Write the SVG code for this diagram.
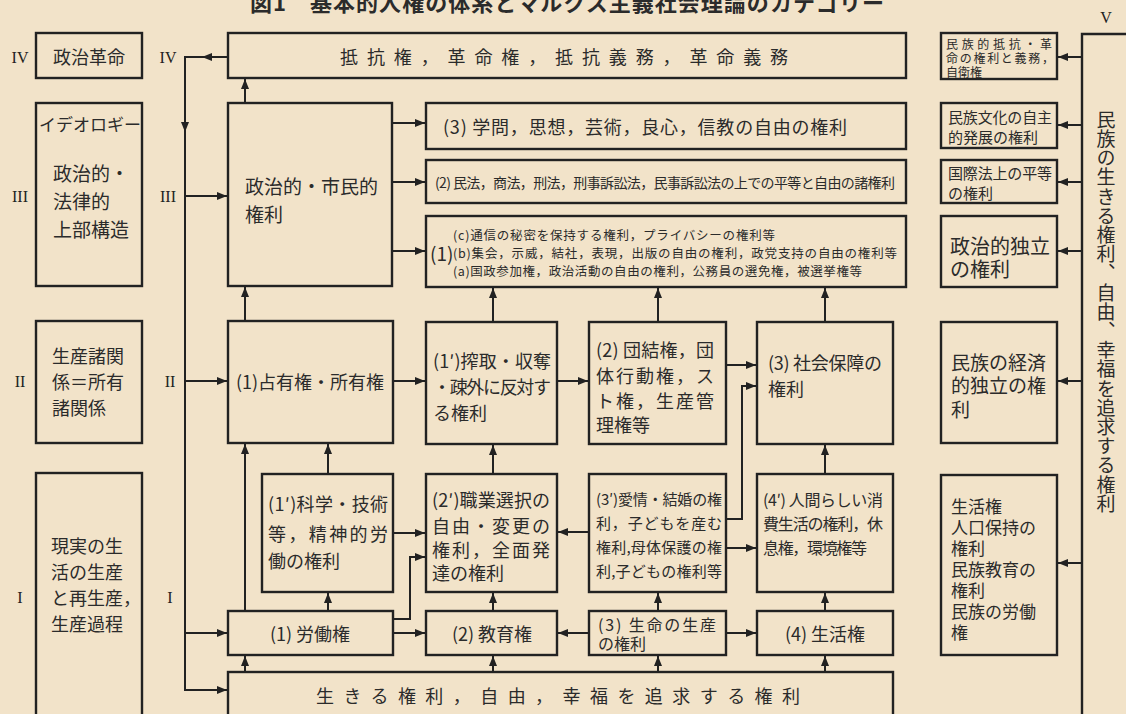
<svg xmlns="http://www.w3.org/2000/svg" width="1126" height="714" viewBox="0 0 1126 714">
<style>
.bx{fill:none;stroke:#222;stroke-width:2.4}
.ln{fill:none;stroke:#222;stroke-width:2}
.ar{marker-end:url(#ah)}
.t{font-family:'Noto Sans CJK JP',sans-serif;fill:#2b2b2b;dominant-baseline:central}
.r{font-family:'Liberation Serif',serif;fill:#222;font-size:16px;text-anchor:middle;dominant-baseline:central}
.s18{font-size:18px}.s19{font-size:19px}.s17{font-size:17px}.s16{font-size:16px}.s15{font-size:15px}.s14{font-size:14px}.s13{font-size:13px}.s20{font-size:20px}
.mid{text-anchor:middle}
</style>
<defs>
<marker id="ah" viewBox="0 0 10 8" refX="10" refY="4" markerWidth="10" markerHeight="8" markerUnits="userSpaceOnUse" orient="auto"><path d="M0,0 L10,4 L0,8 z" fill="#222"/></marker>
</defs>
<rect width="1126" height="714" fill="#f2e3c9"/>
<text class="t" x="250" y="1" font-size="22" font-weight="bold" textLength="634" lengthAdjust="spacing">図1　基本的人権の体系とマルクス主義社会理論のカテゴリー</text>

<g id="labels">
<text class="r" x="20" y="57">IV</text><text class="r" x="168" y="57">IV</text>
<text class="r" x="20" y="196">III</text><text class="r" x="168" y="196">III</text>
<text class="r" x="20" y="381">II</text><text class="r" x="170" y="381">II</text>
<text class="r" x="20" y="597">I</text><text class="r" x="170" y="597">I</text>
<text class="r" x="1106" y="17">V</text>
</g>

<g id="n-seiji-kakumei"><rect class="bx" x="36" y="33" width="106" height="45"/><text class="t s18 mid" x="89" y="56">政治革命</text></g>
<g id="n-ideology"><rect class="bx" x="36" y="103" width="106" height="183"/>
<text class="t s17" x="39" y="123" textLength="102">イデオロギー</text>
<text class="t s19"><tspan x="53" y="172">政治的・</tspan><tspan x="53" y="200">法律的</tspan><tspan x="53" y="228">上部構造</tspan></text></g>
<g id="n-seisan-kankei"><rect class="bx" x="36" y="321" width="106" height="122"/>
<text class="t s18"><tspan x="52" y="355">生産諸関</tspan><tspan x="52" y="381">係＝所有</tspan><tspan x="52" y="407">諸関係</tspan></text></g>
<g id="n-genjitsu"><rect class="bx" x="36" y="473" width="106" height="260"/>
<text class="t s18"><tspan x="51" y="545">現実の生</tspan><tspan x="51" y="571">活の生産</tspan><tspan x="51" y="597">と再生産，</tspan><tspan x="51" y="623">生産過程</tspan></text></g>

<g id="n-teikou"><rect class="bx" x="228" y="33" width="678" height="45"/><text class="t s18" x="340" y="56" textLength="448" lengthAdjust="spacing">抵抗権，革命権，抵抗義務，革命義務</text></g>
<g id="n-seijiteki"><rect class="bx" x="228" y="103" width="164" height="183"/><text class="t s19"><tspan x="245" y="185">政治的・市民的</tspan><tspan x="245" y="213">権利</tspan></text></g>
<g id="n-gakumon"><rect class="bx" x="426" y="103" width="480" height="46"/><text class="t s18" x="443" y="126" textLength="404">(3) 学問，思想，芸術，良心，信教の自由の権利</text></g>
<g id="n-minpou"><rect class="bx" x="426" y="160" width="480" height="43"/><text class="t s14" x="435" y="182" textLength="460">(2) 民法，商法，刑法，刑事訴訟法，民事訴訟法の上での平等と自由の諸権利</text></g>
<g id="n-seiji1"><rect class="bx" x="426" y="216" width="480" height="71"/>
<text class="t s19" x="430" y="252">(1)</text>
<text class="t" font-size="12.5"><tspan x="453" y="234" textLength="322">(c)通信の秘密を保持する権利，プライバシーの権利等</tspan><tspan x="453" y="252" textLength="444">(b)集会，示威，結社，表現，出版の自由の権利，政党支持の自由の権利等</tspan><tspan x="453" y="270" textLength="409">(a)国政参加権，政治活動の自由の権利，公務員の選免権，被選挙権等</tspan></text></g>

<g id="n-senyu"><rect class="bx" x="228" y="321" width="165" height="122"/><text class="t s18 mid" x="310" y="381">(1)占有権・所有権</text></g>
<g id="n-sakushu"><rect class="bx" x="426" y="322" width="131" height="122"/>
<text class="t s18"><tspan x="433" y="360" textLength="118">(1′)搾取・収奪</tspan><tspan x="433" y="386" textLength="118">・疎外に反対す</tspan><tspan x="433" y="412">る権利</tspan></text></g>
<g id="n-danketsu"><rect class="bx" x="589" y="322" width="137" height="122"/>
<text class="t s18"><tspan x="596" y="349" textLength="118">(2) 団結権，団</tspan><tspan x="596" y="375" textLength="118">体行動権，ス</tspan><tspan x="596" y="400" textLength="118">ト権，生産管</tspan><tspan x="596" y="424">理権等</tspan></text></g>
<g id="n-shakai"><rect class="bx" x="757" y="322" width="136" height="122"/>
<text class="t s18"><tspan x="768" y="362" textLength="114">(3) 社会保障の</tspan><tspan x="768" y="388">権利</tspan></text></g>

<g id="n-kagaku"><rect class="bx" x="262" y="474" width="131" height="118"/>
<text class="t s18"><tspan x="268" y="503" textLength="120">(1′)科学・技術</tspan><tspan x="268" y="533" textLength="120">等，精神的労</tspan><tspan x="268" y="560">働の権利</tspan></text></g>
<g id="n-shokugyo"><rect class="bx" x="426" y="474" width="131" height="118"/>
<text class="t s18"><tspan x="432" y="499" textLength="118">(2′)職業選択の</tspan><tspan x="432" y="525" textLength="118">自由・変更の</tspan><tspan x="432" y="549" textLength="118">権利，全面発</tspan><tspan x="432" y="572">達の権利</tspan></text></g>
<g id="n-aijo"><rect class="bx" x="589" y="474" width="137" height="118"/>
<text class="t s15"><tspan x="596" y="498" textLength="126">(3′)愛情・結婚の権</tspan><tspan x="596" y="522" textLength="126">利，子どもを産む</tspan><tspan x="596" y="546" textLength="126">権利,母体保護の権</tspan><tspan x="596" y="570" textLength="126">利,子どもの権利等</tspan></text></g>
<g id="n-ningen"><rect class="bx" x="757" y="474" width="136" height="118"/>
<text class="t s16"><tspan x="763" y="499" textLength="120">(4′) 人間らしい消</tspan><tspan x="763" y="523" textLength="120">費生活の権利，休</tspan><tspan x="763" y="547" textLength="104">息権，環境権等</tspan></text></g>

<g id="n-roudou"><rect class="bx" x="228" y="611" width="165" height="44"/><text class="t s18 mid" x="310" y="633">(1) 労働権</text></g>
<g id="n-kyouiku"><rect class="bx" x="426" y="611" width="131" height="44"/><text class="t s18 mid" x="492" y="633">(2) 教育権</text></g>
<g id="n-seimei"><rect class="bx" x="589" y="611" width="137" height="44"/><text class="t s16"><tspan x="598" y="624" textLength="118">(3) 生命の生産</tspan><tspan x="598" y="643">の権利</tspan></text></g>
<g id="n-seikatsu"><rect class="bx" x="757" y="611" width="136" height="44"/><text class="t s18 mid" x="825" y="633">(4) 生活権</text></g>
<g id="n-ikiru"><rect class="bx" x="228" y="672" width="665" height="60"/><text class="t s18" x="316" y="695" textLength="484" lengthAdjust="spacing">生きる権利，自由，幸福を追求する権利</text></g>

<g id="n-r1"><rect class="bx" x="941" y="33" width="116" height="46"/>
<text class="t" font-size="12"><tspan x="946" y="43" textLength="106">民族的抵抗・革</tspan><tspan x="946" y="57" textLength="108">命の権利と義務，</tspan><tspan x="946" y="71">自衛権</tspan></text></g>
<g id="n-r2"><rect class="bx" x="941" y="103" width="116" height="45"/><text class="t s15"><tspan x="948" y="116" textLength="104">民族文化の自主</tspan><tspan x="948" y="136">的発展の権利</tspan></text></g>
<g id="n-r3"><rect class="bx" x="941" y="160" width="116" height="43"/><text class="t s15"><tspan x="948" y="172" textLength="104">国際法上の平等</tspan><tspan x="948" y="192">の権利</tspan></text></g>
<g id="n-r4"><rect class="bx" x="941" y="216" width="116" height="71"/><text class="t s20"><tspan x="950" y="245">政治的独立</tspan><tspan x="950" y="268">の権利</tspan></text></g>
<g id="n-r5"><rect class="bx" x="941" y="322" width="116" height="121"/><text class="t s19"><tspan x="951" y="361">民族の経済</tspan><tspan x="951" y="384">的独立の権</tspan><tspan x="951" y="408">利</tspan></text></g>
<g id="n-r6"><rect class="bx" x="941" y="475" width="116" height="180"/>
<text class="t s17"><tspan x="951" y="505">生活権</tspan><tspan x="951" y="526">人口保持の</tspan><tspan x="951" y="547">権利</tspan><tspan x="951" y="568">民族教育の</tspan><tspan x="951" y="589">権利</tspan><tspan x="951" y="610">民族の労働</tspan><tspan x="951" y="631">権</tspan></text></g>
<g id="n-rv"><path class="bx" d="M1130,34 H1082 V720"/><text class="t s19" x="1106" y="110" writing-mode="vertical-rl" style="dominant-baseline:auto" textLength="403">民族の生きる権利、自由、幸福を追求する権利</text></g>

<g id="connectors" class="ln">
<path class="ar" d="M228,57 H185 V690 H227"/>
<path class="ar" d="M228,57 H202"/>
<path class="ar" d="M185,57 V132"/>
<path class="ar" d="M185,196 H227"/>
<path class="ar" d="M185,381 H227"/>
<path class="ar" d="M185,633 H227"/>
<path class="ar" d="M245,103 V79"/>
<path class="ar" d="M245,321 V287"/>
<path class="ar" d="M493,322 V288"/>
<path class="ar" d="M658,322 V288"/>
<path class="ar" d="M825,322 V288"/>
<path class="ar" d="M493,474 V445"/>
<path class="ar" d="M825,474 V445"/>
<path class="ar" d="M245,611 V444"/>
<path class="ar" d="M328,474 V444"/>
<path class="ar" d="M328,611 V593"/>
<path class="ar" d="M493,611 V593"/>
<path class="ar" d="M658,611 V593"/>
<path class="ar" d="M825,611 V593"/>
<path class="ar" d="M245,672 V656"/>
<path class="ar" d="M493,672 V656"/>
<path class="ar" d="M658,672 V656"/>
<path class="ar" d="M825,672 V656"/>
<path class="ar" d="M392,123 H425"/>
<path class="ar" d="M392,182 H425"/>
<path class="ar" d="M392,251 H425"/>
<path class="ar" d="M393,381 H425"/>
<path class="ar" d="M557,381 H588"/>
<path class="ar" d="M726,365 H756"/>
<path class="ar" d="M726,519 H742 V386 H756"/>
<path class="ar" d="M393,533 H425"/>
<path class="ar" d="M393,619 H410 V557 H425"/>
<path class="ar" d="M393,633 H425"/>
<path class="ar" d="M589,532 H558"/>
<path class="ar" d="M726,548 H756"/>
<path class="ar" d="M589,633 H558"/>
<path class="ar" d="M726,633 H756"/>
<path class="ar" d="M1082,57 H1058"/>
<path class="ar" d="M1082,125 H1058"/>
<path class="ar" d="M1082,182 H1058"/>
<path class="ar" d="M1082,251 H1058"/>
<path class="ar" d="M1082,381 H1058"/>
<path class="ar" d="M1082,563 H1058"/>
</g>
</svg>
